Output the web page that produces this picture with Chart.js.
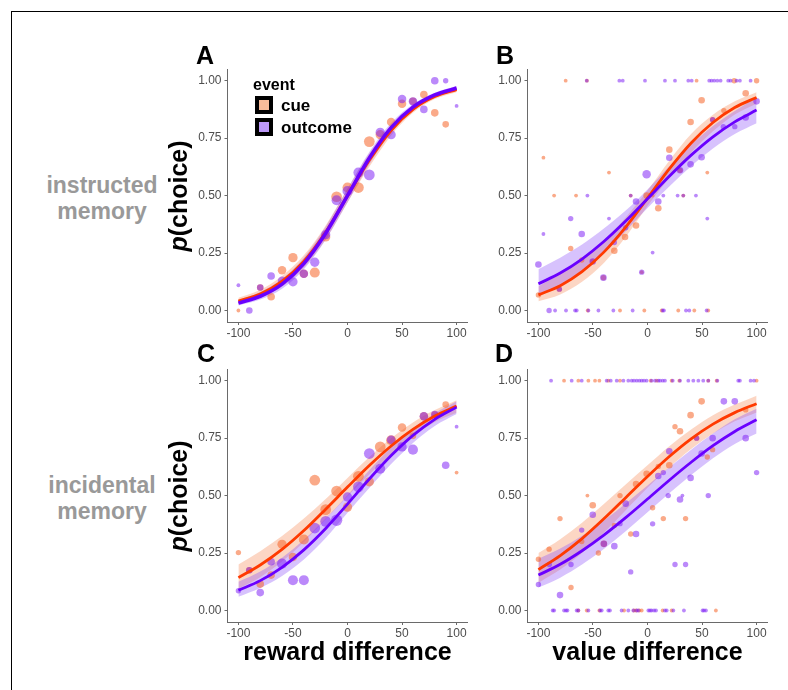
<!DOCTYPE html>
<html><head><meta charset="utf-8">
<script src="https://cdn.jsdelivr.net/npm/chart.js@4.4.1/dist/chart.umd.min.js"></script>
<style>
html,body{margin:0;padding:0;background:#fff;}
#wrap{position:relative;width:788px;height:690px;overflow:hidden;font-family:'Liberation Sans',Arial,Helvetica,sans-serif;background:#fff;}
canvas{position:absolute;}
.t{position:absolute;white-space:nowrap;line-height:1;font-weight:bold;}
#frame{position:absolute;left:11px;top:11px;width:800px;height:700px;border-top:1px solid #000;border-left:1px solid #000;}
.key{position:absolute;width:10px;height:10px;border:4px solid #000;}
</style></head><body>
<div id="wrap">
<div id="frame"></div>
<canvas id="cA"></canvas><canvas id="cB"></canvas><canvas id="cC"></canvas><canvas id="cD"></canvas>
</div>
<script>
// ---------- data ----------
const panelLetters = ['A','B','C','D'];
const rowLabels = [['instructed','memory'],['incidental','memory']];
const yTitle = 'p(choice)';
const xTitles = ['reward difference','value difference'];
const legendTitle = 'event';
const seriesNames = ['cue','outcome'];

const xTicks = [-100,-50,0,50,100];
const xTickLabels = ['-100','-50','0','50','100'];
const yTicks = [0,0.25,0.5,0.75,1];
const yTickLabels = ['0.00','0.25','0.50','0.75','1.00'];

// fitted curves at these x values
const fitX = [-100,-80,-60,-40,-20,0,20,40,60,80,100];

const fitA_cue = [0.040,0.071,0.126,0.213,0.340,0.500,0.655,0.785,0.876,0.932,0.962];
const bandA_cue_lo = [0.028,0.055,0.104,0.186,0.310,0.470,0.625,0.762,0.860,0.920,0.950];
const bandA_cue_hi = [0.055,0.090,0.150,0.240,0.370,0.530,0.684,0.806,0.890,0.942,0.971];
const fitA_out = [0.032,0.062,0.115,0.204,0.336,0.500,0.664,0.796,0.885,0.938,0.968];
const bandA_out_lo = [0.022,0.048,0.095,0.180,0.308,0.470,0.636,0.775,0.870,0.926,0.958];
const bandA_out_hi = [0.045,0.080,0.138,0.230,0.365,0.530,0.690,0.816,0.898,0.948,0.977];

const fitB_cue = [0.068,0.108,0.169,0.254,0.363,0.489,0.616,0.729,0.818,0.883,0.927];
const bandB_cue_lo = [0.040,0.070,0.125,0.207,0.320,0.455,0.578,0.688,0.780,0.853,0.900];
const bandB_cue_hi = [0.105,0.160,0.225,0.305,0.405,0.522,0.652,0.768,0.852,0.910,0.950];
const fitB_out = [0.116,0.163,0.224,0.300,0.389,0.486,0.584,0.676,0.756,0.821,0.872];
const bandB_out_lo = [0.068,0.110,0.170,0.248,0.345,0.446,0.540,0.628,0.705,0.768,0.815];
const bandB_out_hi = [0.180,0.230,0.287,0.357,0.435,0.527,0.628,0.722,0.803,0.868,0.928];

const fitC_cue = [0.143,0.198,0.266,0.348,0.441,0.537,0.631,0.716,0.788,0.846,0.890];
const bandC_cue_lo = [0.095,0.145,0.213,0.298,0.397,0.497,0.592,0.680,0.757,0.820,0.860];
const bandC_cue_hi = [0.200,0.258,0.324,0.400,0.485,0.577,0.668,0.750,0.818,0.872,0.915];
const fitC_out = [0.088,0.130,0.188,0.264,0.357,0.463,0.572,0.674,0.762,0.832,0.885];
const bandC_out_lo = [0.060,0.098,0.150,0.222,0.315,0.425,0.533,0.637,0.729,0.803,0.855];
const bandC_out_hi = [0.125,0.170,0.230,0.308,0.400,0.502,0.610,0.710,0.793,0.858,0.910];

const fitD_cue = [0.178,0.239,0.313,0.399,0.491,0.583,0.670,0.747,0.811,0.861,0.900];
const bandD_cue_lo = [0.120,0.178,0.250,0.338,0.436,0.534,0.623,0.703,0.770,0.823,0.862];
const bandD_cue_hi = [0.250,0.310,0.382,0.463,0.548,0.632,0.715,0.788,0.850,0.896,0.935];
const fitD_out = [0.154,0.201,0.260,0.328,0.404,0.485,0.567,0.645,0.717,0.779,0.830];
const bandD_out_lo = [0.100,0.143,0.200,0.268,0.345,0.428,0.510,0.590,0.663,0.725,0.770];
const bandD_out_hi = [0.225,0.270,0.325,0.392,0.466,0.544,0.623,0.700,0.770,0.832,0.878];

// observed points: [x, p(choice), weight]
const ptsA_cue = [[-100,0.0,1],[-80,0.10,3],[-70,0.06,4],[-60,0.175,5],[-50,0.23,6],[-40,0.16,5],[-30,0.165,7],[-20,0.32,6],[-10,0.495,8],[0,0.535,7],[10,0.535,8],[20,0.735,8],[30,0.765,6],[40,0.82,5],[50,0.90,5],[60,0.91,4],[70,0.94,4],[80,0.86,4],[90,0.81,3]];
const ptsA_out = [[-100,0.11,1],[-90,0.0,3],[-80,0.10,3],[-70,0.15,4],[-60,0.13,5],[-50,0.125,6],[-40,0.16,5],[-30,0.21,6],[-20,0.33,6],[-10,0.48,7],[0,0.52,7],[10,0.60,7],[20,0.59,8],[30,0.775,6],[40,0.765,6],[50,0.92,5],[60,0.91,5],[70,0.875,4],[80,1.0,4],[90,1.0,2],[100,0.89,1]];

const ptsB_cue = [[-75,1,1],[-55.5,1,1],[45,1,1],[79.5,1,2],[100,1,2],
 [-54.8,0,1],[-25.2,0,1],[-2.9,0,1],[13,0,1],[28.2,0,1],[42.9,0,1],[55.7,0,1],
 [-100,0.068,2],[-95.4,0.665,1],[-85.6,0.50,1],[-80.8,0.093,2],[-70.4,0.27,2],[-65.5,0.50,1],[-60.3,0.22,2],[-50.2,0.213,2],[-40.4,0.143,2],[-35.3,0.60,1],[-30.4,0.26,3],[-20.6,0.32,3],[-15.4,0.50,1],[-10.5,0.37,3],[-5.3,0.167,1],[-0.8,0.50,3],[4.7,0.50,1],[9.9,0.445,3],[20,0.70,3],[29.8,0.61,2],[32.8,0.50,1],[39.5,0.82,3],[49.6,0.915,3],[54.8,0.60,1],[59.7,0.83,2],[70,0.87,2],[90,0.945,3]];
const ptsB_out = [[-55.7,1,1],[-25.8,1,1],[-22.7,1,1],[-2.3,1,1],[16,1,1],[25.2,1,1],[37.4,1,1],[40.5,1,1],[56.6,1,1],[58.8,1,1],[61.2,1,1],[64,1,1],[67,1,1],[74,1,1],[76.2,1,1],[81.7,1,1],[84.7,1,1],[94.5,1,1],
 [-90.2,0,2],[-84.7,0,1],[-74.7,0,1],[-66.4,0,1],[-64.9,0,1],[-54.2,0,1],[-45,0,1],[-31.3,0,1],[-13.6,0,1],[13.9,0,1],[15.1,0,1],[35.3,0,1],[38.3,0,1],[54.2,0,1],
 [-100,0.20,3],[-95.4,0.333,1],[-80.8,0.093,2],[-70.4,0.40,2],[-60.3,0.333,3],[-55.1,0.50,1],[-50.2,0.213,3],[-40.4,0.143,3],[-35.3,0.40,1],[-30.4,0.296,2],[-20,0.36,2],[-15.4,0.50,1],[-10.5,0.474,3],[-5.3,0.167,2],[-0.8,0.593,5],[4.7,0.252,1],[9.9,0.474,3],[14.5,0.50,1],[20,0.665,3],[27.6,0.50,1],[29.8,0.61,3],[32.8,0.50,1],[39.5,0.636,3],[44.4,0.50,1],[49.6,0.667,3],[54.8,0.40,1],[59.7,0.83,2],[69.5,0.80,2],[80,0.80,2],[90,0.84,3],[100,0.91,3]];

const ptsC_cue = [[-100,0.252,2],[-90,0.175,3],[-80,0.115,4],[-70,0.154,4],[-60,0.288,6],[-50,0.233,5],[-40,0.309,7],[-30,0.567,8],[-20,0.439,8],[-10,0.52,8],[0,0.45,6],[10,0.584,8],[20,0.56,6],[30,0.712,8],[40,0.741,7],[50,0.796,5],[60,0.76,3],[70,0.845,5],[80,0.853,3],[90,0.896,3],[100,0.60,1]];
const ptsC_out = [[-100,0.086,2],[-90,0.175,3],[-80,0.078,4],[-70,0.212,4],[-60,0.204,7],[-50,0.132,7],[-40,0.132,7],[-30,0.359,8],[-20,0.388,8],[-10,0.393,9],[0,0.494,6],[10,0.538,8],[20,0.683,8],[30,0.617,7],[40,0.743,5],[50,0.712,6],[60,0.70,7],[70,0.845,5],[80,0.853,4],[90,0.632,4],[100,0.80,1]];

const ptsD_cue = [[-76.5,1,1],[-63.4,1,1],[-54.2,1,1],[-48.1,1,1],[-44.1,1,1],[-35.9,1,1],[-25.2,1,1],[2.9,1,1],[8.4,1,1],[22.1,1,1],[29.2,1,1],[55.7,1,1],[63.4,1,1],[100,1,1],
 [-63.4,0,1],[-55.7,0,1],[-44.1,0,1],[-21.5,0,1],[-12.4,0,1],[-10.5,0,1],[-7.5,0,1],[-5.3,0,1],[13.9,0,1],[22.1,0,1],[62.7,0,1],
 [-100,0.223,2],[-90.2,0.267,2],[-80.2,0.40,2],[-70.1,0.10,2],[-60.3,0.30,2],[-55.1,0.50,1],[-50.2,0.458,3],[-45,0.25,2],[-40,0.29,3],[-30.4,0.37,2],[-25.2,0.50,2],[-15.4,0.333,2],[-10.5,0.55,3],[-0.8,0.595,3],[4.7,0.447,2],[9.9,0.627,2],[14.5,0.40,2],[20,0.632,3],[25.2,0.80,2],[29.8,0.78,3],[34.9,0.40,2],[39.5,0.85,3],[45,0.75,2],[49.6,0.91,3],[54.8,0.668,2],[59.7,0.70,2],[90,0.873,2]];
const ptsD_out = [[-88.4,1,1],[-69.5,1,1],[-60.3,1,1],[-37.4,1,1],[-33.7,1,1],[-28.2,1,1],[-22.1,1,1],[-17.6,1,1],[-14.5,1,1],[-12.4,1,1],[-9.9,1,1],[-7.5,1,1],[-5.3,1,1],[-3.2,1,1],[-0.8,1,1],[3.8,1,1],[6.9,1,1],[9.9,1,1],[11.5,1,1],[13.9,1,1],[16,1,1],[23.1,1,1],[29.8,1,1],[37.4,1,1],[42,1,1],[46.6,1,1],[51.1,1,1],[55.7,1,1],[64,1,1],[83.2,1,1],[84.7,1,1],[94.5,1,1],[97.6,1,1],
 [-86.9,0,1],[-85.6,0,1],[-76.5,0,1],[-74.7,0,1],[-73.4,0,1],[-64.9,0,1],[-63.4,0,1],[-54.2,0,1],[-43.5,0,1],[-42,0,1],[-35.9,0,1],[-34.4,0,1],[-23.7,0,1],[-17.6,0,1],[-13,0,1],[-9.9,0,1],[-8.4,0,1],[0.8,0,1],[2.3,0,1],[3.8,0,1],[6,0,1],[7.8,0,1],[16,0,1],[17.6,0,1],[23.7,0,1],[33.4,0,1],[50.5,0,1],[51.8,0,1],[53.6,0,1],
 [-100,0.113,2],[-90,0.20,2],[-80.2,0.067,3],[-70.1,0.20,2],[-60.3,0.35,2],[-50.2,0.417,3],[-40,0.29,3],[-30.4,0.28,3],[-25.2,0.378,2],[-20,0.465,3],[-15.4,0.168,2],[-10.5,0.333,3],[4.7,0.377,2],[9.9,0.585,3],[14.5,0.60,2],[19,0.50,2],[20,0.693,3],[25.2,0.20,2],[29.8,0.483,3],[32,0.50,1],[34.9,0.20,2],[39.5,0.577,3],[45,0.75,2],[49.6,0.683,3],[55.7,0.50,2],[59.7,0.75,3],[70,0.91,3],[80,0.91,3],[90,0.75,3],[100,0.60,2]];

// ---------- styling / layout ----------
const FONT = "'Liberation Sans', Arial, Helvetica, sans-serif";
const COL = {
  cueLine:'#FF3A00', outLine:'#6A00FF',
  cueBand:'rgba(245,120,60,0.30)', outBand:'rgba(140,80,250,0.35)',
  cuePt:'rgba(245,100,40,0.55)', outPt:'rgba(120,20,245,0.50)',
  axis:'#6a6a6a', tick:'#4d4d4d'
};
const panels = [
  {id:'cA', l:227.5, t:69, w:240, h:253, cue:ptsA_cue, out:ptsA_out, fc:fitA_cue, fo:fitA_out, cl:bandA_cue_lo, ch:bandA_cue_hi, ol:bandA_out_lo, oh:bandA_out_hi, lw:[3.2,3.6]},
  {id:'cB', l:527.5, t:69, w:240, h:253, cue:ptsB_cue, out:ptsB_out, fc:fitB_cue, fo:fitB_out, cl:bandB_cue_lo, ch:bandB_cue_hi, ol:bandB_out_lo, oh:bandB_out_hi, lw:[2.8,2.8]},
  {id:'cC', l:227.5, t:369, w:240, h:253, cue:ptsC_cue, out:ptsC_out, fc:fitC_cue, fo:fitC_out, cl:bandC_cue_lo, ch:bandC_cue_hi, ol:bandC_out_lo, oh:bandC_out_hi, lw:[2.8,2.8]},
  {id:'cD', l:527.5, t:369, w:240, h:253, cue:ptsD_cue, out:ptsD_out, fc:fitD_cue, fo:fitD_out, cl:bandD_cue_lo, ch:bandD_cue_hi, ol:bandD_out_lo, oh:bandD_out_hi, lw:[2.8,2.8]}
];

const toXY = ys => fitX.map((x,i)=>({x:x, y:ys[i]}));
const toBub = pts => pts.map(p=>({x:p[0], y:p[1], r:1.9*Math.sqrt(p[2])}));

function makePanel(P){
  const cv = document.getElementById(P.id);
  const AXW = 50.5, PADT = 10, AXH = 26, PADR = 12;
  const cl = Math.floor(P.l - AXW);
  const yW = P.l - cl;
  const W = Math.round(yW + P.w + PADR), H = PADT + P.h + AXH;
  cv.width = W; cv.height = H;
  cv.style.width = W+'px'; cv.style.height = H+'px';
  cv.style.left = cl+'px'; cv.style.top = (P.t - PADT)+'px';
  const line = (data, color, width, order) => ({type:'line', data, borderColor:color, borderWidth:width, pointRadius:0, fill:false, cubicInterpolationMode:'monotone', order});
  const bandLine = (data, fill, color, order) => ({type:'line', data, borderWidth:0, borderColor:'rgba(0,0,0,0)', pointRadius:0, fill, backgroundColor:color, cubicInterpolationMode:'monotone', order});
  const datasets = [
    bandLine(toXY(P.cl), false, COL.cueBand, 7),              //0
    bandLine(toXY(P.ch), {target:0}, COL.cueBand, 6),         //1
    bandLine(toXY(P.ol), false, COL.outBand, 5),              //2
    bandLine(toXY(P.oh), {target:2}, COL.outBand, 4),         //3
    {type:'bubble', data:toBub(P.cue), backgroundColor:COL.cuePt, borderWidth:0, order:3}, //4
    {type:'bubble', data:toBub(P.out), backgroundColor:COL.outPt, borderWidth:0, order:2}, //5
    line(toXY(P.fc), COL.cueLine, P.lw[0], 1),               //6
    line(toXY(P.fo), COL.outLine, P.lw[1], 0)                //7
  ];
  new Chart(cv, {
    type:'line',
    data:{datasets},
    options:{
      responsive:false, animation:false, devicePixelRatio:1,
      layout:{padding:{left:0, right:W - yW - P.w, top:PADT, bottom:0}},
      plugins:{legend:{display:false}, tooltip:{enabled:false}},
      elements:{point:{hoverRadius:0}},
      scales:{
        x:{type:'linear', min:-110, max:110,
           afterFit:s=>{s.height = AXH;},
           afterBuildTicks:s=>{s.ticks = xTicks.map(v=>({value:v}));},
           ticks:{autoSkip:false, maxRotation:0, color:COL.tick, font:{family:FONT, size:12}, padding:1,
                  callback:(v,i)=>xTickLabels[i]},
           grid:{drawOnChartArea:false, drawTicks:true, tickLength:3, color:COL.axis, lineWidth:1},
           border:{display:true, color:COL.axis, width:1}},
        y:{type:'linear', min:-0.05, max:1.05,
           afterFit:s=>{s.width = yW;},
           afterBuildTicks:s=>{s.ticks = yTicks.map(v=>({value:v}));},
           ticks:{autoSkip:false, color:COL.tick, font:{family:FONT, size:12}, padding:3,
                  callback:(v,i)=>yTickLabels[i]},
           grid:{drawOnChartArea:false, drawTicks:true, tickLength:3, color:COL.axis, lineWidth:1},
           border:{display:true, color:COL.axis, width:1}}
      }
    }
  });
}
panels.forEach(makePanel);

// ---------- text ----------
const wrap = document.getElementById('wrap');
function txt(html, x, baseline, size, opts={}){
  const d = document.createElement('div');
  d.className = 't';
  d.innerHTML = html;
  d.style.fontSize = size+'px';
  d.style.color = opts.color || '#000';
  d.style.top = (baseline - 0.8465*size)+'px';
  d.style.left = x+'px';
  if (opts.center) d.style.transform = 'translateX(-50%)';
  wrap.appendChild(d);
  return d;
}
// panel letters
txt(panelLetters[0], 196, 64, 25);
txt(panelLetters[1], 496, 64, 25);
txt(panelLetters[2], 197, 362, 25);
txt(panelLetters[3], 495, 362, 25);
// row labels
const grey = '#999999';
txt(rowLabels[0][0], 102, 193, 23, {center:true, color:grey});
txt(rowLabels[0][1], 102, 219, 23, {center:true, color:grey});
txt(rowLabels[1][0], 102, 493, 23, {center:true, color:grey});
txt(rowLabels[1][1], 102, 519, 23, {center:true, color:grey});
// x titles
txt(xTitles[0], 347.5, 660, 25, {center:true});
txt(xTitles[1], 647.5, 660, 25, {center:true});
// rotated y titles
function ytitle(cx, cy){
  const d = document.createElement('div');
  d.className = 't';
  d.innerHTML = '<i>p</i>(choice)';
  d.style.fontSize = '25px';
  d.style.left = cx+'px'; d.style.top = cy+'px';
  d.style.transform = 'translate(-50%,-50%) rotate(-90deg)';
  wrap.appendChild(d);
}
ytitle(177.5, 195.5);
ytitle(177.5, 495.5);
// legend
txt(legendTitle, 253, 91, 16);
const k1 = document.createElement('div'); k1.className='key'; k1.style.left='255px'; k1.style.top='96px'; k1.style.background='#F8BC9A'; wrap.appendChild(k1);
const k2 = document.createElement('div'); k2.className='key'; k2.style.left='255px'; k2.style.top='118px'; k2.style.background='#BC98F8'; wrap.appendChild(k2);
txt(seriesNames[0], 281, 111, 17);
txt(seriesNames[1], 281, 133, 17);
</script>
</body></html>
